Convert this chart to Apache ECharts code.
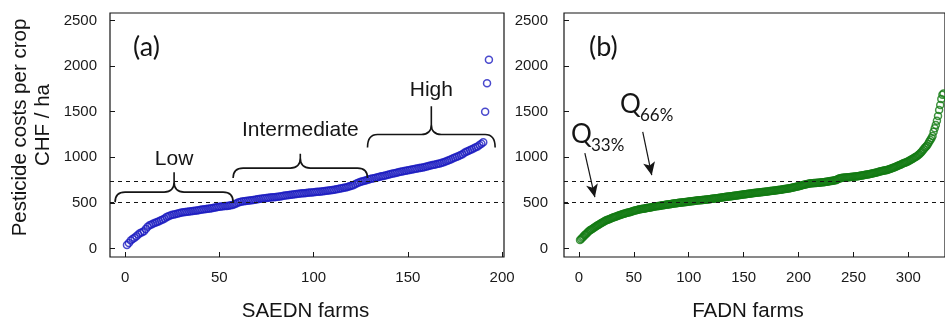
<!DOCTYPE html>
<html><head><meta charset="utf-8">
<script src="https://cdn.jsdelivr.net/npm/echarts@6/dist/echarts.min.js"></script>
<style>html,body{margin:0;padding:0;background:#fff}#c{width:945px;height:321px}</style>
</head><body><div id="c"></div>
<script>
// SAEDN farms, sorted pesticide costs (CHF/ha)
const saednValues = [
40,62,88,105,120,135,155,170,180,190,
215,240,255,265,275,283,292,300,310,318,
330,345,355,362,370,375,380,385,390,395,
398,401,404,406,409,412,415,418,421,425,
428,431,434,437,440,443,447,450,455,460,
462,464,466,468,471,474,478,485,495,505,
512,515,518,521,524,527,530,533,536,540,
543,546,549,552,555,558,560,562,564,566,
569,572,575,578,581,584,587,590,593,596,
599,601,604,606,608,610,612,614,616,618,
620,622,624,626,628,631,634,637,640,643,
646,650,654,658,662,666,670,676,682,688,
695,705,715,724,732,738,744,750,756,762,
767,772,777,782,787,792,797,802,807,812,
817,822,827,832,837,842,846,850,854,858,
862,866,870,874,878,882,886,890,895,900,
905,910,915,920,925,930,934,940,947,955,
963,971,980,990,998,1007,1015,1025,1035,1050,
1062,1070,1080,1090,1100,1110,1120,1135,1150,1165,
1501,1813,2069];
// FADN farms, sorted pesticide costs (CHF/ha)
const fadnValues = [
95,105,120,130,145,155,165,178,190,200,
208,216,224,232,240,247,255,262,270,277,
284,292,298,304,310,315,320,325,330,335,
340,344,349,353,357,362,366,370,374,378,
382,385,389,392,395,399,402,406,410,414,
418,421,424,427,430,432,434,436,438,440,
443,445,447,449,451,453,457,459,461,463,
465,466,468,470,472,474,476,478,480,482,
484,486,487,489,491,493,494,496,498,500,
502,503,505,506,508,509,511,512,514,515,
517,518,520,521,523,524,526,528,529,530,
531,532,534,535,536,537,539,540,542,544,
545,547,548,550,551,553,555,556,558,560,
562,563,565,567,568,570,571,573,575,577,
578,580,582,583,585,587,588,590,592,594,
596,597,599,601,602,604,605,607,609,610,
611,612,614,615,617,618,620,621,623,624,
626,627,629,630,632,633,635,636,638,640,
641,643,645,646,648,650,652,654,656,658,
660,662,665,668,670,672,675,678,680,683,
686,690,694,697,700,703,706,709,712,714,
715,716,717,718,719,720,721,722,723,725,
726,727,728,730,732,734,736,738,740,742,
744,746,748,750,756,762,768,772,774,776,
777,778,779,780,781,782,784,785,787,788,
789,790,792,794,796,798,800,802,805,808,
810,812,813,815,818,820,823,826,829,832,
835,838,841,844,847,850,853,856,858,860,
864,868,872,876,880,885,890,895,900,905,
910,915,920,926,932,937,942,947,952,958,
965,972,979,986,993,1000,1007,1015,1025,1035,
1048,1060,1075,1090,1105,1116,1130,1150,1170,1190,
1210,1235,1281,1320,1355,1400,1454,1520,1575,1640,
1685,1700];
const yTicks = [0,500,1000,1500,2000,2500];
const xTicksA = [0,50,100,150,200];
const xTicksB = [0,50,100,150,200,250,300];
const quantiles = [505, 735];
const groupLabels = ['Low','Intermediate','High'];
const yAxisTitle = ['Pesticide costs per crop','CHF / ha'];
const xTitleA = 'SAEDN farms';
const xTitleB = 'FADN farms';

// annotation geometry (data coordinates)
const braceGeom = [
  {x0:-5.3, x1:57.3, yEnd:509, yMid:619, yPeak:838, textY:981},
  {x0:57.3, x1:128.6, yEnd:773, yMid:882, yPeak:1040, textY:1300},
  {x0:128.6, x1:196.3, yEnd:1109, yMid:1250, yPeak:1560, textY:1739}
];
const arrowGeom = [
  {from:[5.4,1047], to:[14.5,564]},
  {from:[58.1,1278], to:[66.3,805]}
];

const font = '"Liberation Sans", Arial, sans-serif';
const BLUE = '#1c1cc0', GREEN = '#137a13', INK = '#151515';

function toPts(vals){ return vals.map((v,i)=>[i+1, v]); }

function braceRender(params, api) {
  const b = braceGeom[params.dataIndex];
  const xm = (b.x0 + b.x1) / 2;
  const pl = api.coord([b.x0, b.yEnd]);
  const pr = api.coord([b.x1, b.yEnd]);
  const yE = pl[1];
  const yH = api.coord([xm, b.yMid])[1];
  const yP = api.coord([xm, b.yPeak])[1];
  const xl = pl[0], xr = pr[0], xc = (xl + xr) / 2, r = 10;
  const d = `M${xl},${yE} Q${xl},${yH} ${xl+r},${yH} L${xc-r},${yH} Q${xc},${yH} ${xc},${yH-r} L${xc},${yP} M${xc},${yH-r} Q${xc},${yH} ${xc+r},${yH} L${xr-r},${yH} Q${xr},${yH} ${xr},${yE}`;
  const t = api.coord([xm, b.textY]);
  return {type:'group', children:[
    {type:'path', shape:{pathData:d}, style:{stroke:INK, fill:null, lineWidth:1.6}},
    {type:'text', style:{text:groupLabels[params.dataIndex], x:t[0], y:t[1], align:'center', verticalAlign:'middle', textAlign:'center', textVerticalAlign:'middle', fontSize:21, fontFamily:font, fill:INK}}
  ]};
}

const markLineA = {
  silent:true, symbol:'none', animation:false,
  label:{show:false},
  lineStyle:{color:INK, type:[4,4], width:1},
  data: quantiles.map(q=>({yAxis:q}))
};
const markLineB = {
  silent:true, symbol:'none', animation:false,
  label:{show:false},
  lineStyle:{color:INK, type:[4,4], width:1},
  data: quantiles.map(q=>({yAxis:q})).concat(arrowGeom.map(a=>[
    {coord:a.from, symbol:'none', lineStyle:{type:'solid', width:1.2, color:INK}},
    {coord:a.to, symbol:'arrow', symbolSize:[9,13], lineStyle:{type:'solid', width:1.2, color:INK}}
  ]))
};

const axisLabelStyle = {fontSize:15, fontFamily:font, color:'#1a1a1a', formatter:v=>String(v)};
function yAx(gi, margin){ return {
  type:'value', gridIndex:gi, min:-92, max:2582,
  axisLine:{show:false, onZero:false}, splitLine:{show:false},
  axisTick:{show:true, inside:true, length:5, customValues:yTicks, lineStyle:{color:INK}},
  axisLabel:Object.assign({customValues:yTicks, margin:margin}, axisLabelStyle)
};}
function xAx(gi, min, max, ticks){ return {
  type:'value', gridIndex:gi, min:min, max:max,
  axisLine:{show:false, onZero:false}, splitLine:{show:false},
  axisTick:{show:true, inside:true, length:5, customValues:ticks, lineStyle:{color:INK}},
  axisLabel:Object.assign({customValues:ticks, margin:13}, axisLabelStyle)
};}

const chart = echarts.init(document.getElementById('c'), null, {renderer:'canvas'});
chart.setOption({
  animation:false,
  backgroundColor:'#fff',
  grid:[
    {left:110, top:13, width:394, height:244, show:true, borderColor:INK, borderWidth:1.2, backgroundColor:'transparent'},
    {left:564, top:13, width:382, height:244, show:true, borderColor:INK, borderWidth:1.2, backgroundColor:'transparent'}
  ],
  xAxis:[xAx(0,-8,201,xTicksA), xAx(1,-13.6,333.36,xTicksB)],
  yAxis:[yAx(0,13), yAx(1,16)],
  series:[
    {type:'scatter', xAxisIndex:0, yAxisIndex:0, data:toPts(saednValues), symbol:'circle', symbolSize:7,
     itemStyle:{color:'rgba(0,0,0,0)', borderColor:BLUE, borderWidth:1.5}, markLine:markLineA, z:3},
    {type:'scatter', xAxisIndex:1, yAxisIndex:1, data:toPts(fadnValues), symbol:'circle', symbolSize:7,
     itemStyle:{color:'rgba(0,0,0,0)', borderColor:GREEN, borderWidth:1.5}, markLine:markLineB, z:3},
    {type:'custom', xAxisIndex:0, yAxisIndex:0, data:braceGeom.map((b,i)=>[b.x0,b.yEnd,i]), renderItem:braceRender, clip:false, silent:true, z:4}
  ],
  graphic:[
    {type:'text', x:20, y:127.5, rotation:Math.PI/2, style:{text:yAxisTitle[0], align:'center', verticalAlign:'middle', textAlign:'center', textVerticalAlign:'middle', fontSize:20.5, fontFamily:font, fill:INK}},
    {type:'text', x:43, y:125, rotation:Math.PI/2, style:{text:yAxisTitle[1], align:'center', verticalAlign:'middle', textAlign:'center', textVerticalAlign:'middle', fontSize:20.5, fontFamily:font, fill:INK}},
    {type:'text', x:305.5, y:311.5, style:{text:xTitleA, align:'center', verticalAlign:'middle', textAlign:'center', textVerticalAlign:'middle', fontSize:20.5, fontFamily:font, fill:INK}},
    {type:'text', x:748, y:311.5, style:{text:xTitleB, align:'center', verticalAlign:'middle', textAlign:'center', textVerticalAlign:'middle', fontSize:20.5, fontFamily:font, fill:INK}},
    {type:'text', x:133, y:47, style:{text:'(a)', align:'left', verticalAlign:'middle', textAlign:'left', textVerticalAlign:'middle', fontSize:27, fontFamily:'Lato, "Open Sans", sans-serif', fill:INK}},
    {type:'text', x:589, y:47, style:{text:'(b)', align:'left', verticalAlign:'middle', textAlign:'left', textVerticalAlign:'middle', fontSize:27, fontFamily:'Lato, "Open Sans", sans-serif', fill:INK}},
    {type:'text', x:571, y:135, style:{text:'Q', align:'left', verticalAlign:'middle', textAlign:'left', textVerticalAlign:'middle', fontSize:26, fontFamily:'Lato, "Open Sans", sans-serif', fill:INK}},
    {type:'text', x:591, y:146, style:{text:'33%', align:'left', verticalAlign:'middle', textAlign:'left', textVerticalAlign:'middle', fontSize:17, fontFamily:'Lato, "Open Sans", sans-serif', fill:INK}},
    {type:'text', x:620, y:105, style:{text:'Q', align:'left', verticalAlign:'middle', textAlign:'left', textVerticalAlign:'middle', fontSize:26, fontFamily:'Lato, "Open Sans", sans-serif', fill:INK}},
    {type:'text', x:640, y:116, style:{text:'66%', align:'left', verticalAlign:'middle', textAlign:'left', textVerticalAlign:'middle', fontSize:17, fontFamily:'Lato, "Open Sans", sans-serif', fill:INK}}
  ]
});
</script></body></html>
